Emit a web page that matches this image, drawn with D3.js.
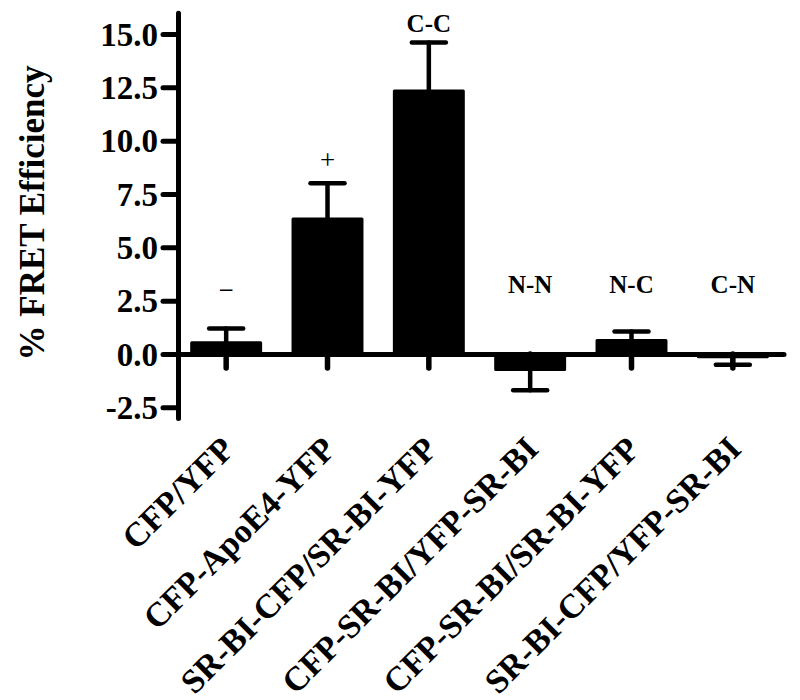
<!DOCTYPE html>
<html>
<head>
<meta charset="utf-8">
<script src="https://cdn.jsdelivr.net/npm/d3@7"></script>
<style>
  html, body { margin: 0; padding: 0; background: #fff; }
  svg { display: block; }
  text { font-family: "Liberation Serif", "Times New Roman", serif; fill: #000; }
</style>
</head>
<body>
<svg id="chart" width="800" height="700"></svg>
<script>
// ---- data ----
const categories = ["CFP/YFP", "CFP-ApoE4-YFP", "SR-BI-CFP/SR-BI-YFP", "CFP-SR-BI/YFP-SR-BI", "CFP-SR-BI/SR-BI-YFP", "SR-BI-CFP/YFP-SR-BI"];
const values = [0.6, 6.4, 12.4, -0.8, 0.7, -0.2];
const errors = [0.6, 1.6, 2.2, 0.9, 0.35, 0.3];
const annotations = ["\u2212", "+", "C-C", "N-N", "N-C", "C-N"];
const annotationLevel = [2.6, 8.65, 15.1, 2.86, 2.86, 2.86];
const yTicks = [-2.5, 0, 2.5, 5, 7.5, 10, 12.5, 15];
const yDomain = [-3, 16];
const yTitle = "% FRET Efficiency";

// ---- layout ----
const svg = d3.select("#chart");
const axisX = 178;
const x = d3.scaleBand().domain(categories).range([175.5, 783.5]).paddingInner(0.29).paddingOuter(0.145);
const y = d3.scaleLinear().domain(yDomain).range([418, 12.7]);
const fmt = d3.formatLocale({ decimal: ".", thousands: ",", grouping: [3], currency: ["", ""], minus: "-" }).format(".1f");

// bars
svg.append("g").selectAll("rect").data(categories).join("rect")
  .attr("x", (d) => x(d) + 1.5)
  .attr("width", x.bandwidth() - 3)
  .attr("y", (d, i) => Math.min(y(values[i]), y(0)) + 1.5)
  .attr("height", (d, i) => Math.max(0, Math.abs(y(values[i]) - y(0)) - 3))
  .attr("fill", "#000").attr("stroke", "#000").attr("stroke-width", 3).attr("stroke-linejoin", "round");

// error bars (one-sided)
const eg = svg.append("g").attr("stroke", "#000").attr("stroke-width", 4.5).attr("stroke-linecap", "round");
categories.forEach((c, i) => {
  const cx = x(c) + x.bandwidth() / 2;
  const v = values[i];
  const e = v >= 0 ? v + errors[i] : v - errors[i];
  eg.append("line").attr("x1", cx).attr("x2", cx).attr("y1", y(v)).attr("y2", y(e));
  eg.append("line").attr("x1", cx - 17).attr("x2", cx + 17).attr("y1", y(e)).attr("y2", y(e));
});

// x axis
const xAxis = svg.append("g").attr("transform", `translate(0,${y(0)})`)
  .call(d3.axisBottom(x).tickSize(14).tickSizeOuter(0).tickFormat(""));
xAxis.select(".domain").attr("stroke", "#000").attr("stroke-width", 5).attr("stroke-linecap", "round");
xAxis.selectAll(".tick line").attr("stroke", "#000").attr("stroke-width", 5.5).attr("stroke-linecap", "round");

// y axis
const yAxis = svg.append("g").attr("transform", `translate(${axisX},0)`)
  .call(d3.axisLeft(y).tickValues(yTicks).tickSize(15).tickSizeOuter(0).tickFormat(fmt));
yAxis.attr("font-size", null).attr("font-family", null);
yAxis.select(".domain").attr("stroke", "#000").attr("stroke-width", 5).attr("stroke-linecap", "round");
yAxis.selectAll(".tick line").attr("stroke", "#000").attr("stroke-width", 5).attr("stroke-linecap", "round");
yAxis.selectAll(".tick text")
  .attr("x", -20).attr("dy", "0.34em")
  .attr("text-anchor", "end")
  .attr("fill", "#000")
  .style("font-family", "'Liberation Serif', 'Times New Roman', serif")
  .style("font-size", "33px").style("font-weight", "bold");

// y title
svg.append("text")
  .attr("transform", "translate(44,213) rotate(-90)")
  .attr("text-anchor", "middle")
  .style("font-size", "35px").style("font-weight", "bold")
  .text(yTitle);

// category labels (rotated 45°, ending under each tick)
svg.append("g").selectAll("text").data(categories).join("text")
  .attr("transform", (d) => `translate(${x(d) + x.bandwidth() / 2 + 10},451) rotate(-45)`)
  .attr("text-anchor", "end")
  .style("font-size", "34px").style("font-weight", "bold")
  .text((d) => d);

// annotations
svg.append("g").selectAll("text").data(categories).join("text")
  .attr("x", (d) => x(d) + x.bandwidth() / 2)
  .attr("y", (d, i) => y(annotationLevel[i]))
  .attr("text-anchor", "middle")
  .style("font-size", (d, i) => (i < 2 ? "27px" : "25px"))
  .style("font-weight", (d, i) => (i < 2 ? "normal" : "bold"))
  .text((d, i) => annotations[i]);
</script>
</body>
</html>
